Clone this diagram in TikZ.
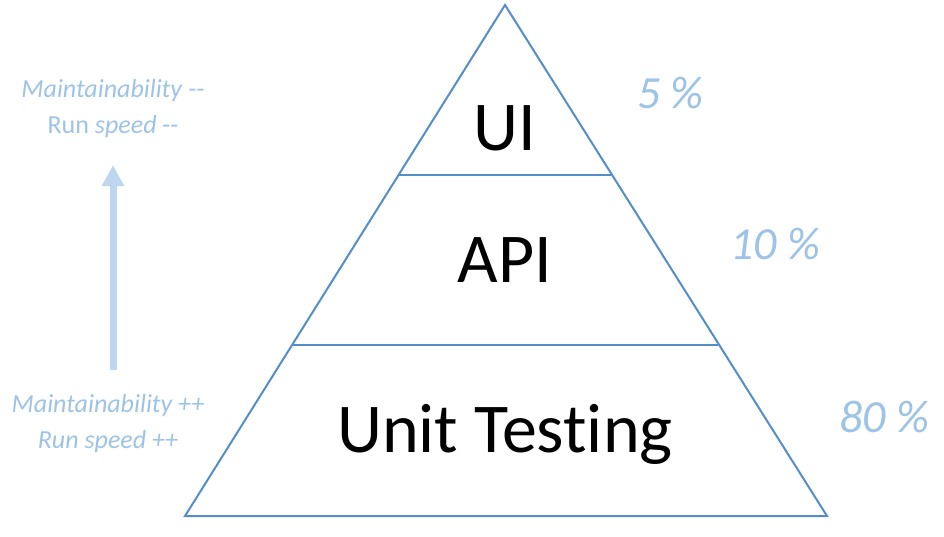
\documentclass[tikz,border=0pt]{standalone}
\usepackage{fontspec}
\setmainfont{Carlito}[Ligatures=NoCommon]
\usepackage{tikz}
\usetikzlibrary{arrows.meta,positioning}

\definecolor{edgeblue}{RGB}{84,141,204}
\definecolor{noteblue}{RGB}{157,195,230}
\definecolor{arrowblue}{RGB}{189,215,238}

\begin{document}
\begin{tikzpicture}[x=1pt, y=-1pt]
			\tikzstyle{Layer}	= [anchor=base, inner sep=0pt, font=\fontsize{70}{70}\selectfont]
			\tikzstyle{Share}	= [anchor=base west, inner sep=0pt, noteblue, font=\fontsize{46}{46}\selectfont\itshape]
			\tikzstyle{Note}	= [anchor=base, inner sep=0pt, noteblue, font=\fontsize{26}{26}\selectfont]
			\tikzstyle{Edge}	= [edgeblue, line width=2pt, line join=miter]
			\tikzstyle{Climb}	= [arrowblue, line width=7pt, -{Triangle[width=21pt, length=21pt]}]
			
			\useasboundingbox (0, 0) rectangle (944, 536);
			
			\coordinate (top) at (505, 5);
			\coordinate (bl) at (185, 516);
			\coordinate (br) at (827, 516);
			\coordinate (l1) at (399, 175);
			\coordinate (r1) at (611, 175);
			\coordinate (l2) at (292, 345);
			\coordinate (r2) at (718, 345);
			
			\draw (bl) -- (top) -- (br) -- cycle [Edge];
			\draw [-] (l1) to (r1) [Edge];
			\draw [-] (l2) to (r2) [Edge];
			
			\node (ui) at (505, 150) [Layer] {UI};
			\node (api) at (505, 282) [Layer] {API};
			\node (unit) at (505, 452) [Layer] {Unit Testing};
			
			\node (p5) at (637, 108) [Share] {5 \%};
			\node (p10) at (730, 259) [Share] {10 \%};
			\node (p80) at (839, 432) [Share] {80 \%};
			
			\node (hardA) at (113, 97) [Note] {\textit{Maintainability} -{}-};
			\node (hardB) at (113, 133) [Note] {Run \textit{speed} -{}-};
			\node (easyA) at (108, 412) [Note] {\itshape Maintainability ++};
			\node (easyB) at (108, 448) [Note] {\itshape Run speed ++};
			
			\coordinate (low) at (113, 370);
			\coordinate (high) at (113, 165);
			\draw (low) -- (high) [Climb];
		\end{tikzpicture}
\end{document}
